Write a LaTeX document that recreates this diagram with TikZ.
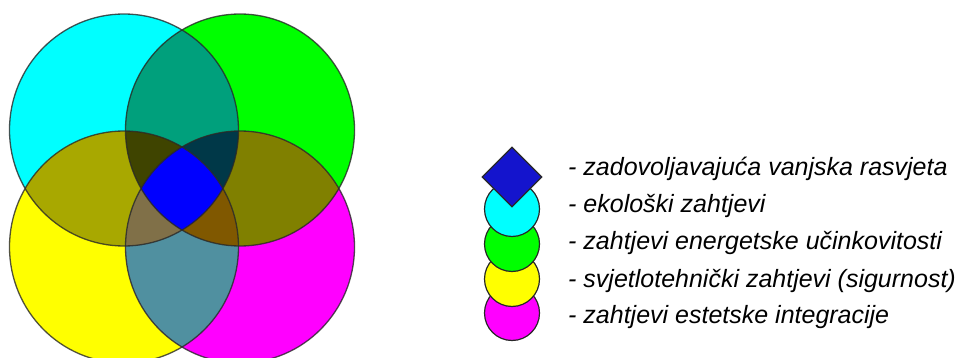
\documentclass[tikz,border=0pt]{standalone}
\usepackage{fontspec}
\setmainfont{Liberation Sans}
\usetikzlibrary{shapes.geometric}
\definecolor{cC}{RGB}{0,255,255}
\definecolor{cG}{RGB}{0,255,0}
\definecolor{cY}{RGB}{255,255,0}
\definecolor{cM}{RGB}{255,0,255}
\definecolor{cCG}{RGB}{0,160,124}
\definecolor{cCY}{RGB}{168,168,0}
\definecolor{cGM}{RGB}{128,128,0}
\definecolor{cYM}{RGB}{80,144,160}
\definecolor{cCGY}{RGB}{63,68,0}
\definecolor{cCGM}{RGB}{0,56,72}
\definecolor{cCYM}{RGB}{128,112,72}
\definecolor{cGYM}{RGB}{128,88,0}
\definecolor{cAll}{RGB}{0,0,255}
\definecolor{cDia}{RGB}{20,20,205}
\definecolor{edge}{RGB}{40,40,40}
\begin{document}
\begin{tikzpicture}[x=1pt,y=-1pt,
  outline/.style={draw=edge,line width=1.3pt,draw opacity=0.8},
  legcirc/.style={circle,draw=edge,line width=1.2pt,minimum size=55pt,inner sep=0pt},
  legtext/.style={anchor=base west,inner sep=0pt,font=\itshape\fontsize{25}{30}\selectfont}]
\useasboundingbox (0,0) rectangle (961,358);
\def\pC{(124,130) ellipse [x radius=114.5, y radius=116]}
\def\pG{(240,130) ellipse [x radius=114.5, y radius=116]}
\def\pY{(124,247) ellipse [x radius=114.5, y radius=116]}
\def\pM{(240,247) ellipse [x radius=114.5, y radius=116]}
\begin{scope}
\clip (0,0) rectangle (961,358);
% single regions
\fill[cC] \pC;
\fill[cG] \pG;
\fill[cY] \pY;
\fill[cM] \pM;
% pairs
\begin{scope}\clip \pC; \fill[cCG] \pG; \end{scope}
\begin{scope}\clip \pC; \fill[cCY] \pY; \end{scope}
\begin{scope}\clip \pG; \fill[cGM] \pM; \end{scope}
\begin{scope}\clip \pY; \fill[cYM] \pM; \end{scope}
% triples
\begin{scope}\clip \pC; \clip \pG; \fill[cCGY] \pY; \end{scope}
\begin{scope}\clip \pC; \clip \pG; \fill[cCGM] \pM; \end{scope}
\begin{scope}\clip \pC; \clip \pY; \fill[cCYM] \pM; \end{scope}
\begin{scope}\clip \pG; \clip \pY; \fill[cGYM] \pM; \end{scope}
% all four
\begin{scope}\clip \pC; \clip \pG; \clip \pY; \fill[cAll] \pM; \end{scope}
% outlines
\draw[outline] \pC;
\draw[outline] \pG;
\draw[outline] \pY;
\draw[outline] \pM;
\end{scope}
% legend symbols
\node[legcirc,fill=cM] (lm) at (512,313) {};
\node[legcirc,fill=cY] (ly) at (512,279) {};
\node[legcirc,fill=cG] (lg) at (512,244) {};
\node[legcirc,fill=cC] (lc) at (512,209) {};
\node[diamond,aspect=1,draw=edge,line width=1.2pt,fill=cDia,minimum width=60pt,minimum height=60pt,inner sep=0pt] (ld) at (512,177) {};
% legend texts
\node[legtext] (t1) at (568,176) {- zadovoljavajuća vanjska rasvjeta};
\node[legtext] (t2) at (568,213) {- ekološki zahtjevi};
\node[legtext] (t3) at (568,250) {- zahtjevi energetske učinkovitosti};
\node[legtext] (t4) at (568,287) {- svjetlotehnički zahtjevi (sigurnost)};
\node[legtext] (t5) at (568,323) {- zahtjevi estetske integracije};
\end{tikzpicture}
\end{document}
